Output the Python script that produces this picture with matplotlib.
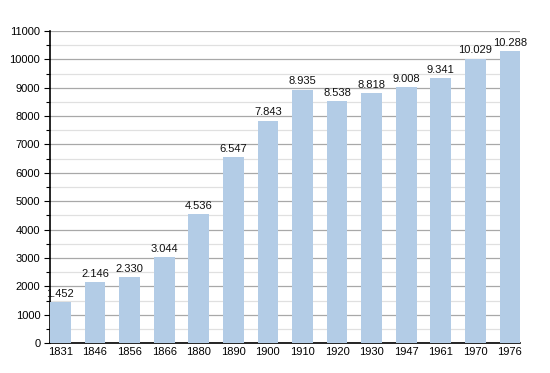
import numpy as np
import matplotlib.pyplot as plt
from matplotlib.ticker import MultipleLocator

plt.rcParams['font.family'] = ['Liberation Sans', 'DejaVu Sans']

years = ['1831', '1846', '1856', '1866', '1880', '1890', '1900',
         '1910', '1920', '1930', '1947', '1961', '1970', '1976']
population = [1452, 2146, 2330, 3044, 4536, 6547, 7843,
              8935, 8538, 8818, 9008, 9341, 10029, 10288]

fig = plt.figure(figsize=(5.5, 3.73), dpi=100)
ax = fig.add_axes([0.091, 0.080, 0.855, 0.837])

x = np.arange(len(years))
ax.bar(x, population, width=0.6, color='#b3cce6', zorder=3)

for xi, v in zip(x, population):
    label = f'{v:,}'.replace(',', '.')
    ax.text(xi, v + 110, label, ha='center', va='bottom', fontsize=8, color='#111111')

ax.set_xlim(-0.3, 13.3)
ax.set_ylim(0, 11000)
ax.yaxis.set_major_locator(MultipleLocator(1000))
ax.yaxis.set_minor_locator(MultipleLocator(500))
ax.grid(which='major', axis='y', color='#a8a8a8', linewidth=0.9, zorder=0)
ax.grid(which='minor', axis='y', color='#e0e0e0', linewidth=0.9, zorder=0)

ax.set_xticks(x)
ax.set_xticklabels(years)
ax.tick_params(axis='x', length=0, labelsize=8, pad=3)
ax.tick_params(axis='y', which='major', length=4, width=0.8, labelsize=8, pad=3)
ax.tick_params(axis='y', which='minor', length=3, width=0.8)

for s in ['top', 'right']:
    ax.spines[s].set_visible(False)
ax.spines['left'].set_linewidth(1.2)
ax.spines['bottom'].set_linewidth(1.2)

fig.savefig('out.png', dpi=100)
